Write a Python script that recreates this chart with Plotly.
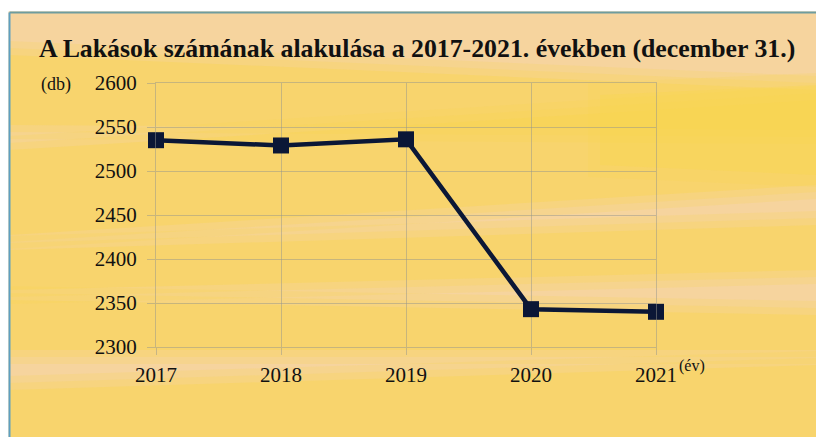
import plotly.graph_objects as go

# Number of dwellings at 31 December each year
years = [2017, 2018, 2019, 2020, 2021]
dwellings = [2535, 2529, 2536, 2343, 2340]
y_ticks = [2300, 2350, 2400, 2450, 2500, 2550, 2600]
x_tick_text = ["2017", "2018", "2019", "2020", "2021"]

W, H = 816, 437
L, R, T, B = 156, 656, 83, 347  # plot-area edges in pixels
PW, PH = R - L, B - T

PEACH = "#F6D49E"
YELLOW = "#F9D64E"
INK = "#111111"
GRID = "rgba(150,150,140,0.5)"


def px(x):
    return (x - L) / PW


def py(y):
    return (B - y) / PH


def band(points, color, opacity):
    path = "M " + " L ".join(f"{px(x):.4f},{py(y):.4f}" for x, y in points) + " Z"
    return dict(type="path", xref="paper", yref="paper", path=path,
                fillcolor=color, opacity=opacity, line=dict(width=0), layer="below")


shapes = []
# soft yellow streaks over the peach card; each one is stacked thin-to-wide for soft edges
streaks = [
    # ((left top, left bottom), (right top, right bottom))
    ((55, 125), (90, 130)),
    ((150, 235), (100, 185)),
    ((300, 350), (315, 350)),
    ((390, 437), (365, 437)),
    ((250, 290), (225, 270)),
]
for (lt, lb), (rt, rb) in streaks:
    for grow, op in [(14, 0.2), (7, 0.22), (0, 0.36)]:
        shapes.append(band([(9, lt - grow), (W, rt - grow), (W, rb + grow), (9, lb + grow)],
                           YELLOW, op))
# right-hand yellow patch
for grow, op in [(12, 0.2), (0, 0.35)]:
    shapes.append(band([(600 - grow, 95 - grow), (W, 85 - grow), (W, 175 + grow), (600 - grow, 165 + grow)],
                       YELLOW, op))

# white outer strip with the thin frame along the top and left edge
shapes.append(dict(type="rect", xref="paper", yref="paper", x0=px(0), x1=px(W), y0=py(11.5), y1=py(0),
                   fillcolor="white", line=dict(width=0), layer="below"))
shapes.append(dict(type="rect", xref="paper", yref="paper", x0=px(0), x1=px(8.5), y0=py(H), y1=py(0),
                   fillcolor="white", line=dict(width=0), layer="below"))
shapes.append(dict(type="line", xref="paper", yref="paper", x0=px(9.5), x1=px(W), y0=py(12.5), y1=py(12.5),
                   line=dict(color="#6E9C9E", width=2)))
shapes.append(dict(type="line", xref="paper", yref="paper", x0=px(9.5), x1=px(9.5), y0=py(12.5), y1=py(H),
                   line=dict(color="#5E9FC0", width=2)))

fig = go.Figure()
fig.add_trace(go.Scatter(
    x=years, y=dwellings, mode="lines+markers",
    line=dict(color="#0B1736", width=4.5),
    marker=dict(symbol="square", size=16, color="#0B1736"),
    hoverinfo="x+y", showlegend=False, cliponaxis=False,
))

serif = "Liberation Serif, Times New Roman, serif"

fig.update_layout(
    width=W, height=H,
    margin=dict(l=L, r=W - R, t=T, b=H - B),
    paper_bgcolor=PEACH,
    plot_bgcolor="rgba(0,0,0,0)",
    font=dict(family=serif, color=INK, size=21),
    shapes=shapes,
    xaxis=dict(
        range=[2017, 2021], tickvals=years, ticktext=x_tick_text,
        showgrid=True, gridcolor=GRID, gridwidth=1,
        showline=True, linecolor=GRID, linewidth=1, mirror=True,
        ticks="outside", ticklen=7, tickcolor=GRID,
        ticklabelstandoff=2, zeroline=False,
        tickfont=dict(family=serif, size=21, color=INK),
    ),
    yaxis=dict(
        range=[2300, 2600], tickvals=y_ticks,
        showgrid=True, gridcolor=GRID, gridwidth=1,
        showline=True, linecolor=GRID, linewidth=1, mirror=True,
        ticks="outside", ticklen=8, tickcolor=GRID,
        ticklabelstandoff=6, zeroline=False,
        tickfont=dict(family=serif, size=21, color=INK),
    ),
    annotations=[
        dict(text="<b>A Lakások számának alakulása a 2017-2021. években (december 31.)</b>",
             xref="paper", yref="paper", x=px(37), y=py(48), xanchor="left", yanchor="middle",
             showarrow=False, font=dict(family=serif, size=25.8, color=INK)),
        dict(text="(db)", xref="paper", yref="paper", x=px(39), y=py(84),
             xanchor="left", yanchor="middle", showarrow=False,
             font=dict(family=serif, size=18, color=INK)),
        dict(text="(év)", xref="paper", yref="paper", x=px(677), y=py(366),
             xanchor="left", yanchor="middle", showarrow=False,
             font=dict(family=serif, size=16, color=INK)),
    ],
)

fig.write_html("out.html")
